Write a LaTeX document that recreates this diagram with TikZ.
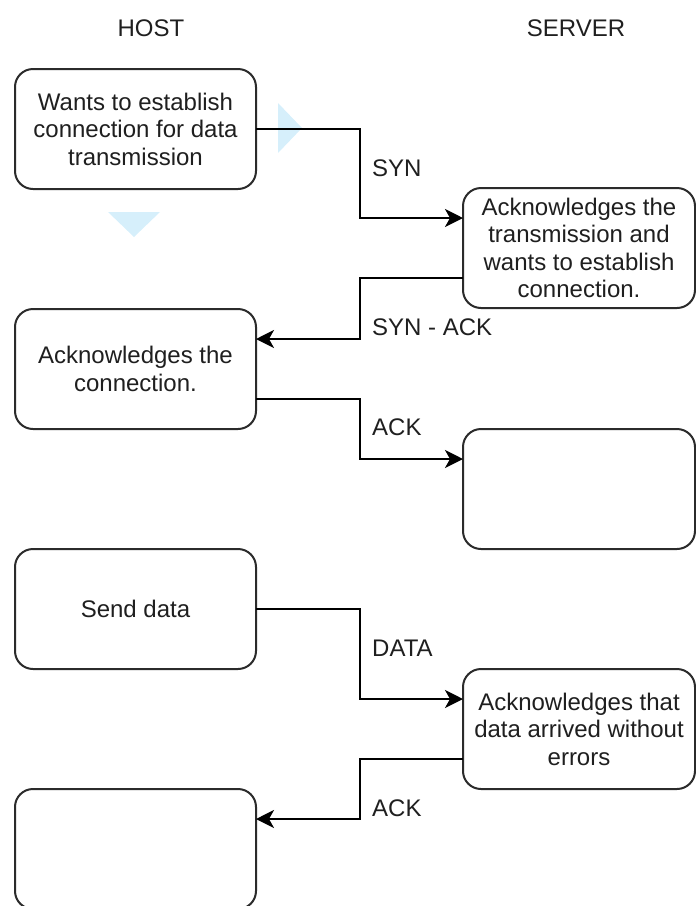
\documentclass[tikz,border=0pt]{standalone}
\usepackage{fontspec}
\setmainfont{Liberation Sans}
\usetikzlibrary{arrows.meta,calc}

\definecolor{inkline}{HTML}{2B2B2B}
\definecolor{inktext}{HTML}{1F1F1F}
\definecolor{hintblue}{RGB}{214,239,251}

\tikzset{
  lbl/.style={font=\fontsize{24}{27.5}\selectfont, text=inktext, inner sep=0pt},
  stepbox/.style={draw=inkline, line width=2pt, rounded corners=18pt, fill=white,
    minimum height=120pt, align=center, outer sep=0pt, inner sep=2pt,
    font=\fontsize{24}{27.5}\selectfont, text=inktext},
  hostbox/.style={stepbox, minimum width=241pt},
  srvbox/.style={stepbox, minimum width=232pt},
  conn/.style={draw=black, line width=2pt,
    -{Stealth[length=18pt,width=18pt,inset=5pt]}},
  hint/.style={fill=hintblue, draw=none}
}

\begin{document}
\begin{tikzpicture}[x=1pt,y=-1pt]
\useasboundingbox (0,0) rectangle (696,906);

% column headings
\node[lbl] (host) at (151,28) {HOST};
\node[lbl] (server) at (576,28) {SERVER};

% hover hints beside the first step
\fill[hint] (278,103) -- (302,128) -- (278,153) -- cycle;
\fill[hint] (108,212) -- (160,212) -- (134,237) -- cycle;

% steps
\node[hostbox] (b1) at (135.5,129) {Wants to establish\\connection for data\\transmission};
\node[srvbox]  (b2) at (579,248) {Acknowledges the\\transmission and\\wants to establish\\connection.};
\node[hostbox] (b3) at (135.5,369) {Acknowledges the\\connection.};
\node[srvbox]  (b4) at (579,489) {};
\node[hostbox] (b5) at (135.5,609) {Send data};
\node[srvbox]  (b6) at (579,729) {Acknowledges that\\data arrived without\\errors};
\node[hostbox] (b7) at (135.5,849) {};

% attachment points on the box sides
\coordinate (xmid) at (360,0);
\coordinate (b2in)  at ($(b2.north west)!0.25!(b2.south west)$);
\coordinate (b2out) at ($(b2.north west)!0.75!(b2.south west)$);
\coordinate (b3in)  at ($(b3.north east)!0.25!(b3.south east)$);
\coordinate (b3out) at ($(b3.north east)!0.75!(b3.south east)$);
\coordinate (b4in)  at ($(b4.north west)!0.25!(b4.south west)$);
\coordinate (b6in)  at ($(b6.north west)!0.25!(b6.south west)$);
\coordinate (b6out) at ($(b6.north west)!0.75!(b6.south west)$);
\coordinate (b7in)  at ($(b7.north east)!0.25!(b7.south east)$);

% messages
\draw[conn] (b1.east) -- (xmid |- b1.east) |- (b2in);
\draw[conn] (b2out) -- (xmid |- b2out) |- (b3in);
\draw[conn] (b3out) -- (xmid |- b3out) |- (b4in);
\draw[conn] (b5.east) -- (xmid |- b5.east) |- (b6in);
\draw[conn] (b6out) -- (xmid |- b6out) |- (b7in);

% message labels
\node[lbl, anchor=west] (syn)    at (372,168) {SYN};
\node[lbl, anchor=west] (synack) at (372,327) {SYN - ACK};
\node[lbl, anchor=west] (ack1)   at (372,427) {ACK};
\node[lbl, anchor=west] (data)   at (372,648) {DATA};
\node[lbl, anchor=west] (ack2)   at (372,808) {ACK};
\end{tikzpicture}
\end{document}
